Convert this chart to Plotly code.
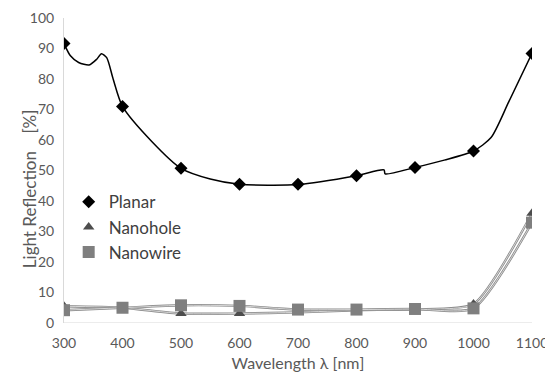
import plotly.graph_objects as go

# Marker points (every 100 nm)
wl = [300, 400, 500, 600, 700, 800, 900, 1000, 1100]
planar = [91.6, 71.0, 50.7, 45.5, 45.5, 48.3, 51.0, 56.4, 88.4]
nanohole = [5.5, 5.0, 3.1, 3.1, 3.5, 4.2, 4.5, 6.2, 36.0]
nanowire = [4.2, 5.0, 5.8, 5.6, 4.4, 4.4, 4.6, 4.8, 32.9]

planar_curve_wl = [300, 311, 325, 343, 356, 364, 373, 384, 400, 450, 500,
                   550, 600, 700, 800, 847, 849, 900, 950, 1000, 1030, 1060, 1100]
planar_curve = [91.6, 87.6, 85.4, 84.6, 86.5, 88.3, 87.0, 80.0, 71.0, 59.5, 50.7,
                47.2, 45.5, 45.4, 48.3, 50.2, 48.9, 51.0, 53.4, 56.4, 60.8, 72.4, 88.4]

x_ticks = [300, 400, 500, 600, 700, 800, 900, 1000, 1100]
y_ticks = [0, 10, 20, 30, 40, 50, 60, 70, 80, 90, 100]

FONT = "Lato"
TXT = "#595959"

fig = go.Figure()

# Planar line
fig.add_trace(go.Scatter(x=planar_curve_wl, y=planar_curve, mode="lines",
                         line=dict(color="black", width=1.5, shape="spline", smoothing=0.7),
                         showlegend=False, hoverinfo="skip"))

# Nanohole / Nanowire double lines
for ys in (nanohole, nanowire):
    fig.add_trace(go.Scatter(x=wl, y=ys, mode="lines",
                             line=dict(color="#8a8a8a", width=2.4, shape="spline", smoothing=0.6),
                             showlegend=False, hoverinfo="skip"))
    fig.add_trace(go.Scatter(x=wl, y=ys, mode="lines",
                             line=dict(color="#e8e8e8", width=0.8, shape="spline", smoothing=0.6),
                             showlegend=False, hoverinfo="skip"))

fig.add_trace(go.Scatter(x=wl, y=planar, mode="markers", name="Planar",
                         marker=dict(symbol="diamond", size=10, color="black")))
fig.add_trace(go.Scatter(x=wl, y=nanohole, mode="markers", name="Nanohole",
                         marker=dict(symbol="triangle-up", size=10, color="#4d4d4d")))
fig.add_trace(go.Scatter(x=wl, y=nanowire, mode="markers", name="Nanowire",
                         marker=dict(symbol="square", size=12, color="#7f7f7f")))

fig.update_layout(
    width=545, height=364,
    margin=dict(l=56, r=21, t=10, b=49, autoexpand=False),
    paper_bgcolor="white", plot_bgcolor="white",
    font=dict(family=FONT, color=TXT, size=14),
    legend=dict(x=0.01, y=0.455, xanchor="left", yanchor="top",
                bgcolor="rgba(0,0,0,0)", font=dict(size=17, color="#404040"),
                itemwidth=30, tracegroupgap=0),
    xaxis=dict(range=[300, 1100], tickvals=x_ticks, showgrid=False, zeroline=False,
               showline=False, ticks="", tickfont=dict(size=14, color=TXT), automargin=False,
               ticklabelstandoff=10, ticklabeloverflow="allow",
               title=dict(text="Wavelength λ [nm]", font=dict(size=16, color=TXT), standoff=10)),
    yaxis=dict(range=[0, 100], tickvals=y_ticks, showgrid=False, zeroline=False,
               showline=True, linecolor="#d9d9d9", linewidth=1, ticks="", automargin=False,
               tickfont=dict(size=14, color=TXT), ticklabelstandoff=6,
               ticklabeloverflow="allow"),
)

# bottom axis line at y=0
fig.add_shape(type="line", xref="paper", yref="y", x0=0, x1=1, y0=0, y1=0,
              line=dict(color="#d9d9d9", width=1), layer="below")

fig.add_annotation(text="Light Reflection    [%]", xref="paper", yref="paper",
                   x=-0.074, y=0.44, textangle=-90, showarrow=False,
                   font=dict(size=17, color=TXT), xanchor="center", yanchor="middle")

fig.write_html("out.html")
